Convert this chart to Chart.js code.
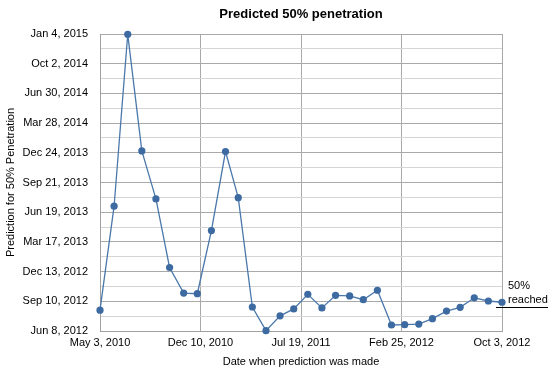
<!DOCTYPE html>
<html>
<head>
<meta charset="utf-8">
<script src="https://cdn.jsdelivr.net/npm/chart.js@4/dist/chart.umd.min.js"></script>
<style>
  body { margin: 0; background: #fff; }
</style>
</head>
<body>
<canvas id="chart" width="555" height="377"></canvas>
<script>
// date the prediction was made (monthly)
const madeDates = [
    '2010-05-03', '2010-06-03', '2010-07-03', '2010-08-03', '2010-09-03', '2010-10-03',
    '2010-11-03', '2010-12-03', '2011-01-03', '2011-02-03', '2011-03-03', '2011-04-03',
    '2011-05-03', '2011-06-03', '2011-07-03', '2011-08-03', '2011-09-03', '2011-10-03',
    '2011-11-03', '2011-12-03', '2012-01-03', '2012-02-03', '2012-03-03', '2012-04-03',
    '2012-05-03', '2012-06-03', '2012-07-03', '2012-08-03', '2012-09-03', '2012-10-03'
];

// predicted date for 50% penetration
const predictedDates = [
    '2012-08-13', '2013-07-08', '2015-01-03', '2013-12-30', '2013-07-31', '2012-12-26',
    '2012-10-06', '2012-10-04', '2013-04-22', '2013-12-28', '2013-08-04', '2012-08-23',
    '2012-06-09', '2012-07-26', '2012-08-17', '2012-10-02', '2012-08-20', '2012-09-29',
    '2012-09-27', '2012-09-15', '2012-10-15', '2012-06-27', '2012-06-28', '2012-06-30',
    '2012-07-17', '2012-08-10', '2012-08-22', '2012-09-21', '2012-09-11', '2012-09-07'
];

const xTickDates = ['2010-05-03', '2010-12-10', '2011-07-19', '2012-02-25', '2012-10-03'];

const yTickDates = [
    '2012-06-08', '2012-09-10', '2012-12-13', '2013-03-17', '2013-06-19', '2013-09-21',
    '2013-12-24', '2014-03-28', '2014-06-30', '2014-10-02', '2015-01-04'
];

const reachedDate = '2012-08-24';

const MONTHS = ['Jan', 'Feb', 'Mar', 'Apr', 'May', 'Jun', 'Jul', 'Aug', 'Sep', 'Oct', 'Nov', 'Dec'];

function toDay(s) {
    const p = s.split('-').map(Number);
    return Date.UTC(p[0], p[1] - 1, p[2]) / 86400000;
}

function fmtDay(d) {
    const dt = new Date(Math.round(d) * 86400000);
    return MONTHS[dt.getUTCMonth()] + ' ' + dt.getUTCDate() + ', ' + dt.getUTCFullYear();
}

const xTicks = xTickDates.map(toDay);
const yTicks = yTickDates.map(toDay);

const points = madeDates.map((d, i) => ({ x: toDay(d), y: toDay(predictedDates[i]) }));

// y ticks with a minor gridline halfway between each label
function yTickList() {
    const list = [];
    yTicks.forEach((v, i) => {
        list.push({ value: v, minor: false });
        if (i < yTicks.length - 1)
            list.push({ value: (v + yTicks[i + 1]) / 2, minor: true });
    });
    return list;
}

const reachedNote = {
    id: 'reachedNote',
    afterDraw(chart) {
        const c = chart.ctx;
        const y = chart.scales.y.getPixelForValue(toDay(reachedDate));
        const x = chart.scales.x.getPixelForValue(toDay(madeDates[madeDates.length - 1]));
        c.save();
        c.fillStyle = '#000';
        c.font = '11px "Liberation Sans", Arial, sans-serif';
        c.textBaseline = 'middle';
        c.fillText('50%', x + 6, y - 21);
        c.fillText('reached', x + 6, y - 7);
        c.strokeStyle = '#000';
        c.lineWidth = 1;
        c.beginPath();
        c.moveTo(x - 6, Math.round(y) + 0.5);
        c.lineTo(x + 46, Math.round(y) + 0.5);
        c.stroke();
        c.restore();
    }
};

Chart.defaults.font.family = '"Liberation Sans", Arial, sans-serif';
Chart.defaults.font.size = 11;
Chart.defaults.color = '#000';

new Chart(document.getElementById('chart'), {
    type: 'line',
    data: {
        datasets: [{
            data: points,
            borderColor: '#4a78ab',
            borderWidth: 1.3,
            pointRadius: 3.6,
            pointBorderWidth: 0,
            pointBackgroundColor: '#3c6aa1',
            tension: 0,
            clip: false
        }]
    },
    options: {
        responsive: false,
        animation: false,
        layout: { padding: { left: 0, right: 53, top: 0, bottom: 0 } },
        plugins: {
            legend: { display: false },
            tooltip: { enabled: false },
            title: {
                display: true,
                text: 'Predicted 50% penetration',
                fullSize: false,
                color: '#000',
                font: { size: 13, weight: 'bold' },
                padding: { top: 6.5, bottom: 11.9 }
            }
        },
        scales: {
            x: {
                type: 'linear',
                min: xTicks[0],
                max: xTicks[xTicks.length - 1],
                afterBuildTicks: s => { s.ticks = xTicks.map(v => ({ value: v })); },
                afterFit: s => { s.height = 46; },
                ticks: {
                    autoSkip: false,
                    maxRotation: 0,
                    padding: 5,
                    callback: v => fmtDay(v)
                },
                grid: { color: '#a9a9a9', drawTicks: false },
                border: { color: '#a0a0a0' },
                title: {
                    display: true,
                    text: 'Date when prediction was made',
                    padding: { top: 0, bottom: 8.4 }
                }
            },
            y: {
                type: 'linear',
                min: yTicks[0],
                max: yTicks[yTicks.length - 1],
                afterBuildTicks: s => { s.ticks = yTickList(); },
                afterFit: s => { s.width = 100; },
                ticks: {
                    autoSkip: false,
                    padding: 12,
                    callback: function (v, i, ticks) {
                        return ticks[i].minor ? '' : fmtDay(v);
                    }
                },
                grid: {
                    drawTicks: false,
                    color: ctx => (ctx.tick && ctx.tick.minor) ? '#d4d4d4' : '#a9a9a9'
                },
                border: { color: '#a0a0a0' },
                title: {
                    display: true,
                    text: 'Prediction for 50% Penetration',
                    padding: { top: 4, bottom: 0 }
                }
            }
        }
    },
    plugins: [reachedNote]
});
</script>
</body>
</html>
